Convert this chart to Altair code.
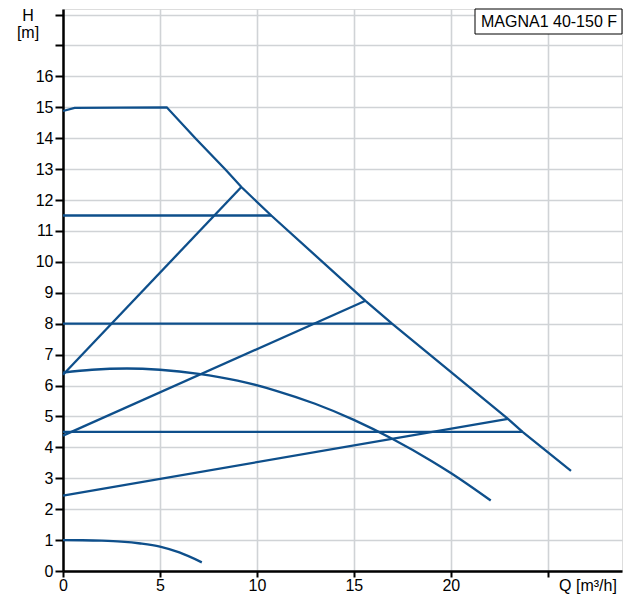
import altair as alt
import pandas as pd

# ---------------- data ----------------
# Maximum curve
max_q = [0, 0.6, 5.35, 6.85, 8.4, 9.2, 10.74, 15.6, 16.97, 22.95, 23.7, 26.2]
max_h = [14.88, 14.98, 15.0, 13.98, 12.97, 12.42, 11.5, 8.74, 8.0, 4.92, 4.5, 3.24]

# Constant-pressure curves (horizontal)
cp_levels = [11.5, 8.0, 4.5]
cp_end_q = [10.74, 16.97, 23.7]

# Proportional-pressure curves (straight)
pp_start_h = [6.35, 4.38, 2.44]
pp_end_q = [9.2, 15.6, 22.95]
pp_end_h = [12.42, 8.74, 4.92]

# Curved (fixed speed) curves
minA_q = [0, 1.5, 3.3, 5, 7, 9, 11, 13, 15, 17, 19, 20, 22.06]
minA_h = [6.42, 6.51, 6.55, 6.51, 6.38, 6.16, 5.83, 5.41, 4.89, 4.27, 3.56, 3.17, 2.28]
minB_q = [0, 1, 2, 3, 4, 5, 6, 7.16]
minB_h = [1.0, 0.995, 0.98, 0.95, 0.89, 0.79, 0.6, 0.28]

x_ticks = [0, 5, 10, 15, 20, 25]
y_ticks = list(range(0, 19))
title_box = "MAGNA1 40-150 F"
y_title = ["H", "[m]"]
x_title = "Q [m³/h]"

# ---------------- build tables ----------------
lin_rows = []
for i, (q, h) in enumerate(zip(max_q, max_h)):
    lin_rows.append({"curve": "max", "seq": i, "Q": q, "H": h})
for k, (lvl, qe) in enumerate(zip(cp_levels, cp_end_q)):
    lin_rows.append({"curve": f"cp{k}", "seq": 0, "Q": 0, "H": lvl})
    lin_rows.append({"curve": f"cp{k}", "seq": 1, "Q": qe, "H": lvl})
for k, (hs, qe, he) in enumerate(zip(pp_start_h, pp_end_q, pp_end_h)):
    lin_rows.append({"curve": f"pp{k}", "seq": 0, "Q": 0, "H": hs})
    lin_rows.append({"curve": f"pp{k}", "seq": 1, "Q": qe, "H": he})
lin_df = pd.DataFrame(lin_rows)

curve_rows = []
for i, (q, h) in enumerate(zip(minA_q, minA_h)):
    curve_rows.append({"curve": "A", "seq": i, "Q": q, "H": h})
for i, (q, h) in enumerate(zip(minB_q, minB_h)):
    curve_rows.append({"curve": "B", "seq": i, "Q": q, "H": h})
curve_df = pd.DataFrame(curve_rows)

FONT = "Liberation Sans"
LINE = "#0e4f8b"
GRID = "#d0d3d6"
W, H = 559, 562

x_scale = alt.Scale(domain=[0, 28.83], nice=False, zero=True)
y_scale = alt.Scale(domain=[0, 18.18], nice=False, zero=True)

x_axis = alt.Axis(
    values=x_ticks, title=None, grid=True, gridColor=GRID, gridWidth=1.6,
    domainColor="black", domainWidth=2.5, tickColor="black", tickWidth=2,
    tickSize=6, labelFontSize=16, labelFont=FONT, labelColor="black",
    labelPadding=0, labelOverlap=False, labelFlush=False, labelBound=False,
    labelExpr="datum.value <= 20 ? datum.label : ''",
)
y_axis = alt.Axis(
    values=y_ticks, title=None, grid=True, gridColor=GRID, gridWidth=1.6,
    domainColor="black", domainWidth=2.5, tickColor="black", tickWidth=2,
    tickSize=8, labelFontSize=16, labelFont=FONT, labelColor="black",
    labelPadding=2, labelOverlap=False, labelFlush=False, labelBound=False,
    labelExpr="datum.value <= 16 ? datum.label : ''",
)

lines = alt.Chart(lin_df).mark_line(color=LINE, strokeWidth=2.3).encode(
    x=alt.X("Q:Q", scale=x_scale, axis=x_axis),
    y=alt.Y("H:Q", scale=y_scale, axis=y_axis),
    detail="curve:N",
    order="seq:Q",
)

curves = alt.Chart(curve_df).mark_line(
    color=LINE, strokeWidth=2.3, interpolate="monotone"
).encode(
    x=alt.X("Q:Q", scale=x_scale, axis=x_axis),
    y=alt.Y("H:Q", scale=y_scale, axis=y_axis),
    detail="curve:N",
    order="seq:Q",
)

box_df = pd.DataFrame({"t": [title_box]})
box = alt.Chart(box_df).mark_rect(fill="white", stroke="black", strokeWidth=1).encode(
    x=alt.value(412), x2=alt.value(W), y=alt.value(0), y2=alt.value(25)
)
box_text = alt.Chart(box_df).mark_text(
    font=FONT, fontSize=16, color="black", align="center", baseline="middle"
).encode(x=alt.value(486), y=alt.value(13), text="t:N")

yt1 = alt.Chart(pd.DataFrame({"t": [y_title[0]]})).mark_text(
    font=FONT, fontSize=16, color="black", align="center", baseline="middle"
).encode(x=alt.value(-35), y=alt.value(7), text="t:N")
yt2 = alt.Chart(pd.DataFrame({"t": [y_title[1]]})).mark_text(
    font=FONT, fontSize=16, color="black", align="center", baseline="middle"
).encode(x=alt.value(-35), y=alt.value(24), text="t:N")
xt = alt.Chart(pd.DataFrame({"t": [x_title]})).mark_text(
    font=FONT, fontSize=16, color="black", align="center", baseline="middle"
).encode(x=alt.value(525), y=alt.value(H + 15), text="t:N")

chart = alt.layer(lines, curves, box, box_text, yt1, yt2, xt).properties(
    width=W, height=H,
    autosize=alt.AutoSizeParams(type="none"),
    padding={"left": 55, "top": 1, "right": 2, "bottom": 25},
).configure_view(
    stroke="black", strokeWidth=1
).configure_axis(
    labelOverlap=False
).configure(background="white")

chart.save("out.html", embed_options={"renderer": "svg", "actions": False})
